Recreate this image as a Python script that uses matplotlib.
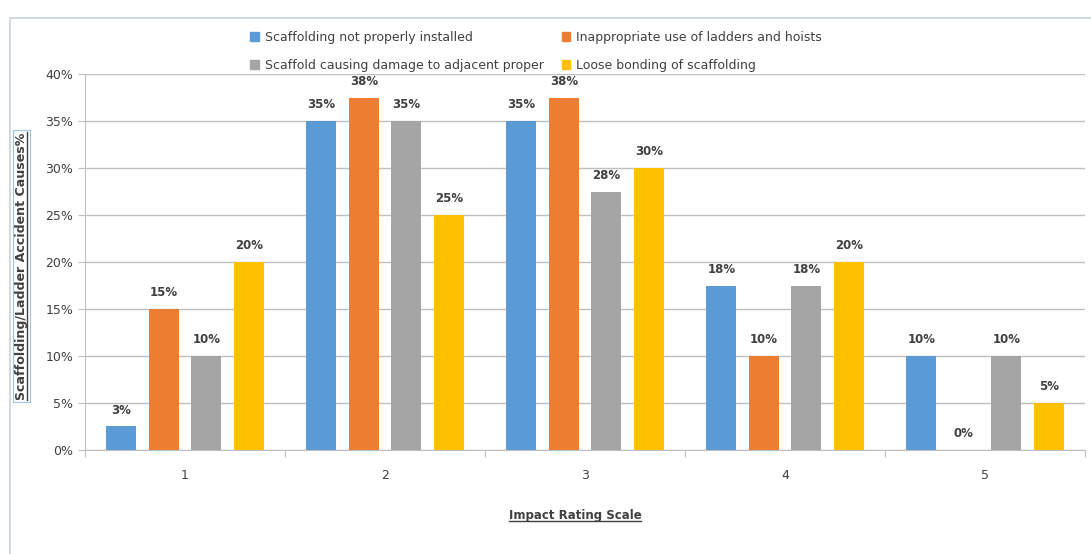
import numpy as np
import matplotlib.pyplot as plt
from matplotlib.patches import Rectangle
from matplotlib.lines import Line2D

# Data
categories = ["1", "2", "3", "4", "5"]
series_names = [
    "Scaffolding not properly installed",
    "Inappropriate use of ladders and hoists",
    "Scaffold causing damage to adjacent proper",
    "Loose bonding of scaffolding",
]
not_installed = [2.5, 35, 35, 17.5, 10]
ladders_hoists = [15, 37.5, 37.5, 10, 0]
adjacent_damage = [10, 35, 27.5, 17.5, 10]
loose_bonding = [20, 25, 30, 20, 5]
colors = ["#5b9bd5", "#ed7d31", "#a5a5a5", "#ffc000"]

series = [not_installed, ladders_hoists, adjacent_damage, loose_bonding]

fig = plt.figure(figsize=(10.91, 5.54), dpi=100)
ax = fig.add_axes([0.078, 0.188, 0.9165, 0.678])

x = np.arange(1, len(categories) + 1)
width = 0.15
step = 0.2125
text_color = "#404040"

for i, (vals, name, c) in enumerate(zip(series, series_names, colors)):
    pos = x + (i - 1.5) * step
    ax.bar(pos, vals, width=width, color=c, label=name, zorder=3)
    for p, v in zip(pos, vals):
        # excel style rounding (half up)
        ax.annotate(f"{int(v + 0.5)}%", (p, v), xytext=(0, 7), textcoords="offset points",
                    ha="center", va="bottom", fontsize=8.5, fontweight="bold", color=text_color)

ax.set_xlim(0.5, 5.5)
ax.set_ylim(0, 40)
ax.set_yticks(np.arange(0, 41, 5))
ax.set_yticklabels([f"{v}%" for v in range(0, 41, 5)])
ax.yaxis.grid(True, color="#bfbfbf", linewidth=1, zorder=0)

# ticks at category boundaries, labels at centers
ax.set_xticks(np.arange(0.5, 5.6, 1))
ax.set_xticklabels([])
ax.set_xticks(x, minor=True)
ax.set_xticklabels(categories, minor=True)
ax.tick_params(axis="x", which="major", length=5, color="#bfbfbf", direction="out")
ax.tick_params(axis="x", which="minor", length=0, pad=14, labelsize=9, labelcolor=text_color)
ax.tick_params(axis="y", length=5, color="#bfbfbf", labelsize=9, labelcolor=text_color)

for s in ["top", "right"]:
    ax.spines[s].set_visible(False)
for s in ["left", "bottom"]:
    ax.spines[s].set_color("#bfbfbf")

# Legend (row-major order, matplotlib fills columns first)
order = [0, 2, 1, 3]
handles = [Rectangle((0, 0), 1, 1, color=colors[k]) for k in order]
labels = [series_names[k] for k in order]
fig.legend(handles, labels, loc="upper left", bbox_to_anchor=(0.219, 0.965),
           ncol=2, frameon=False, fontsize=9, handlelength=0.7, handleheight=0.7,
           handletextpad=0.45, columnspacing=1.45, labelspacing=1.2, labelcolor=text_color)

# Axis titles
xl = fig.text(0.527, 0.07, "Impact Rating Scale", ha="center", va="center",
              fontsize=8.5, fontweight="bold", color=text_color)
yl = fig.text(0.02, 0.52, "Scaffolding/Ladder Accident Causes%", ha="center", va="center",
              rotation=90, fontsize=9.1, fontweight="bold", color=text_color,
              bbox=dict(boxstyle="square,pad=0.15", fc="none", ec="#9dc3e6", lw=0.8))

# Outer chart frame
fig.patches.append(Rectangle((0.009, -0.02), 1.0, 1 - 18 / 554 + 0.02, transform=fig.transFigure,
                             fill=False, ec="#c8d3da", lw=1.2))

# Underline titles
fig.canvas.draw()
r = fig.canvas.get_renderer()
inv = fig.transFigure.inverted()
bb = xl.get_window_extent(r).transformed(inv)
fig.add_artist(Line2D([bb.x0, bb.x1], [bb.y0 + 0.002, bb.y0 + 0.002], transform=fig.transFigure,
                      color=text_color, lw=1))
bb = yl.get_window_extent(r).transformed(inv)
fig.add_artist(Line2D([bb.x1 - 0.001, bb.x1 - 0.001], [bb.y0, bb.y1], transform=fig.transFigure,
                      color=text_color, lw=1))

plt.savefig("out.png", dpi=100)
